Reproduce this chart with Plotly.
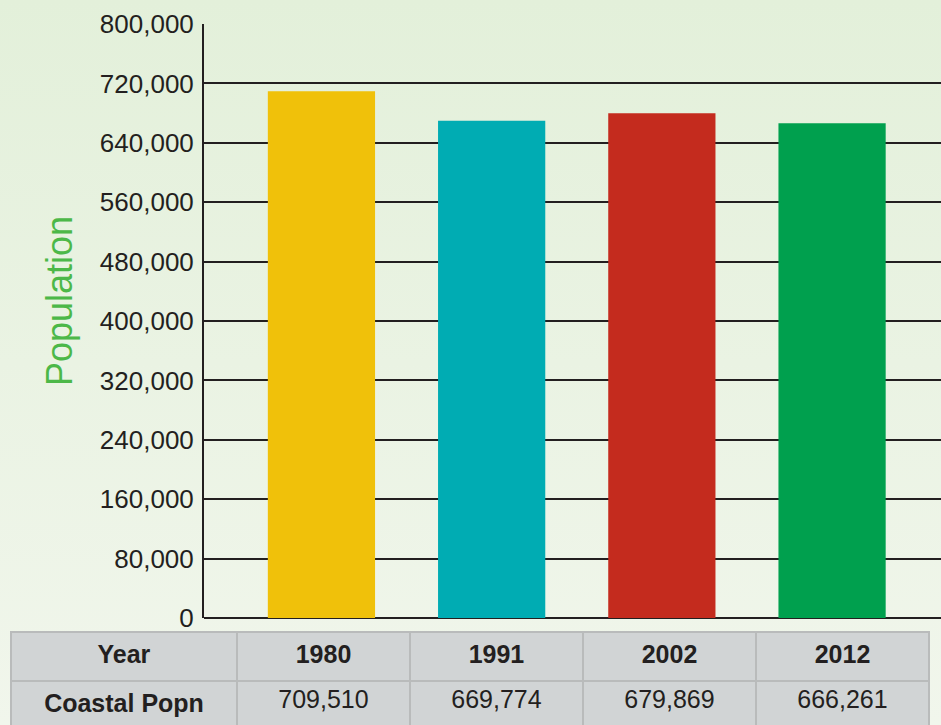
import base64
import plotly.graph_objects as go

years = ["1980", "1991", "2002", "2012"]
popn = [709510, 669774, 679869, 666261]
bar_colors = ["#f0c10a", "#00acb3", "#c42b1e", "#00a04e"]
tick_vals = [0, 80000, 160000, 240000, 320000, 400000, 480000, 560000, 640000, 720000, 800000]
y_title = "Population"
row_label_1 = "Year"
row_label_2 = "Coastal Popn"

W, H = 941, 725
DARK = "#231f20"
FONT = "Liberation Sans"

svg = (
    '<svg xmlns="http://www.w3.org/2000/svg" width="941" height="725" preserveAspectRatio="none">'
    '<defs><linearGradient id="g" x1="0" y1="0" x2="0" y2="1">'
    '<stop offset="0" stop-color="#e3f0da"/><stop offset="1" stop-color="#f1f6ec"/>'
    '</linearGradient></defs><rect width="941" height="725" fill="url(#g)"/></svg>'
)
bg_uri = "data:image/svg+xml;base64," + base64.b64encode(svg.encode()).decode()

fig = go.Figure()
fig.add_trace(go.Bar(
    x=years, y=popn, marker=dict(color=bar_colors, line=dict(width=0)),
    width=0.63, showlegend=False, hoverinfo="x+y",
))

fig.add_trace(go.Table(
    domain=dict(x=[11 / W, 929 / W], y=[0, (H - 632) / H]),
    columnwidth=[226, 173, 173, 173, 173],
    header=dict(
        values=["<b>" + row_label_1 + "</b>"] + ["<b>" + y + "</b>" for y in years],
        fill_color="#d1d4d5",
        line=dict(color="#b9bbbb", width=2),
        align="center",
        height=49,
        font=dict(family=FONT, size=25, color=DARK),
    ),
    cells=dict(
        values=[["<b>" + row_label_2 + "</b>"]] + [[f"{v:,}"] for v in popn],
        fill_color="#d1d4d5",
        line=dict(color="#b9bbbb", width=2),
        align="center",
        height=48,
        font=dict(family=FONT, size=25, color=DARK),
    ),
))

fig.update_layout(
    width=W, height=H,
    margin=dict(l=0, r=0, t=0, b=0, autoexpand=False),
    paper_bgcolor="rgba(0,0,0,0)",
    plot_bgcolor="rgba(0,0,0,0)",
    images=[dict(source=bg_uri, xref="paper", yref="paper", x=0, y=1,
                 sizex=1, sizey=1, sizing="stretch", layer="below",
                 xanchor="left", yanchor="top")],
    xaxis=dict(
        domain=[204 / W, 1], range=[-0.69, 3.64],
        showticklabels=False, showgrid=False, zeroline=False,
        showline=False, fixedrange=True, automargin=False,
    ),
    yaxis=dict(
        domain=[(H - 618) / H, (H - 24) / H], range=[0, 800000],
        tickvals=tick_vals, tickformat=",",
        tickfont=dict(family=FONT, size=26, color=DARK),
        showgrid=True, gridcolor=DARK, gridwidth=2,
        showline=True, linecolor=DARK, linewidth=2,
        zeroline=True, zerolinecolor=DARK, zerolinewidth=2,
        ticks="", ticklabelstandoff=3, automargin=False,
        fixedrange=True,
    ),
    annotations=[dict(
        text=y_title, textangle=-90, showarrow=False,
        xref="paper", yref="paper", x=59 / W, y=(H - 301) / H,
        xanchor="center", yanchor="middle",
        font=dict(family=FONT, size=36, color="#4cb848"),
    )],
    font=dict(family=FONT, color=DARK),
)

fig.write_html(
    "out.html",
    config={"displayModeBar": False},
    post_script="document.body.style.margin='0';document.body.style.overflow='hidden';",
)
